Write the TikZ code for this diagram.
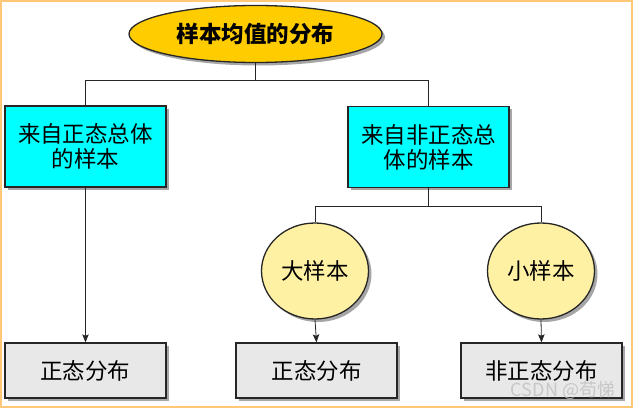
\documentclass[tikz,border=0pt]{standalone}
\usepackage{fontspec}
\setmainfont{Noto Sans CJK SC}
\usetikzlibrary{shapes.geometric,shadows,arrows.meta}
\definecolor{frameorange}{RGB}{255,200,120}
\definecolor{titlegold}{RGB}{255,204,0}
\definecolor{casecyan}{RGB}{0,255,255}
\definecolor{sizeyellow}{RGB}{255,241,164}
\definecolor{resultgray}{RGB}{232,232,232}
\tikzset{
  shade/.style={drop shadow={shadow xshift=3pt,shadow yshift=-3pt,fill=black,opacity=0.35}},
  base/.style={draw=black!85,line width=1.3pt,shade,inner sep=0pt,align=center,
    font=\fontsize{22.5}{25}\selectfont},
  title/.style={base,ellipse,fill=titlegold,minimum width=253pt,minimum height=57pt,
    font=\fontsize{22.5}{25}\selectfont\bfseries},
  case/.style={base,rectangle,fill=casecyan,minimum width=161pt,minimum height=81pt},
  size/.style={base,ellipse,fill=sizeyellow,minimum width=107pt,minimum height=96pt},
  result/.style={base,rectangle,fill=resultgray,minimum width=161pt,minimum height=55pt},
  link/.style={draw=black!85,line width=0.8pt}
}
\begin{document}
\begin{tikzpicture}[x=1pt,y=-1pt,>={Stealth[length=8pt,width=6.5pt,inset=1.5pt]}]
\useasboundingbox (0,0) rectangle (633,409);
\draw[frameorange,line width=2pt] (1,1) rectangle (632,407);
% nodes
\node[title] (mean) at (255.5,34) {样本均值的分布};
\node[case] (normal) at (85.5,146.5) {来自正态总体\\的样本};
\node[case] (nonnormal) at (428.5,147) {来自非正态总\\体的样本};
\node[size] (large) at (315,271) {大样本};
\node[size] (small) at (541,271) {小样本};
\node[result] (res1) at (85.5,370.5) {正态分布};
\node[result] (res2) at (316.5,370.5) {正态分布};
\node[result] (res3) at (541.5,370.5) {非正态分布};
% junctions
\coordinate (j1) at (255.5,80);
\coordinate (j2) at (428.5,206);
% connectors
\draw[link] (mean.south) -- (j1) -| (normal.north);
\draw[link] (j1) -| (nonnormal.north);
\draw[link] (nonnormal.south) -- (j2) -| (large.north);
\draw[link] (j2) -| (small.north);
\draw[link,->] (normal.south) -- (res1.north);
\draw[link,->] (large.south) -- (res2.north);
\draw[link,->] (small.south) -- (res3.north);
\node[text=gray!50,opacity=0.8,font=\fontsize{18}{18}\selectfont] (mark) at (563,390) {CSDN @苟悌};
\end{tikzpicture}
\end{document}
